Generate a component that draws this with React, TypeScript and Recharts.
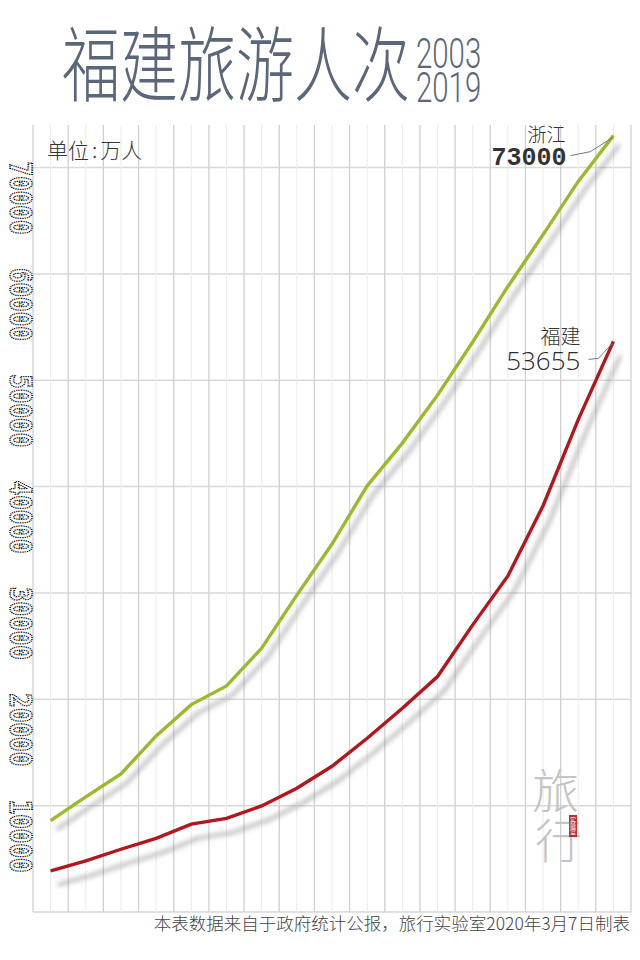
import React from 'react';
import { LineChart, Line, XAxis, YAxis, CartesianGrid } from 'recharts';

// 2003-2019 旅游人次（万人）
const years = [2003, 2004, 2005, 2006, 2007, 2008, 2009, 2010, 2011, 2012, 2013, 2014, 2015, 2016, 2017, 2018, 2019];
const zhejiang = [8590, 10820, 12980, 16560, 19500, 21260, 24800, 29800, 34600, 40070, 44090, 48600, 53600, 58820, 63690, 68700, 73000];
const fujian = [3857, 4800, 5900, 6930, 8260, 8810, 9970, 11630, 13700, 16340, 19160, 22140, 27000, 31600, 38200, 46300, 53655];

const yTicks = [10000, 20000, 30000, 40000, 50000, 60000, 70000];
const yGrid = [0, ...yTicks];
// one grid line on every year and one between years
const xGrid = [...years.flatMap((y) => [y - 0.5, y]), years[years.length - 1] + 0.5];

const data = years.map((year, i) => ({ year, zhejiang: zhejiang[i], fujian: fujian[i] }));

const SLATE = '#5b6779';
const GREEN = '#9cb92a';
const RED = '#b3141c';

const DottedTick = ({ y, payload }: any) => {
  const cx = 9.5;
  const top = y - 6;
  return (
    <text
      x={cx}
      y={top}
      transform={`rotate(90 ${cx} ${top})`}
      fontFamily="'DejaVu Sans Mono', monospace"
      fontWeight={700}
      fontSize={31}
      textLength={73}
      lengthAdjust="spacingAndGlyphs"
      fill="none"
      stroke="#000"
      strokeWidth={1.6}
      strokeDasharray="1.2 1.1"
    >
      {payload.value}
    </text>
  );
};

const VLine = (p: any) => (
  <line
    key={p.key}
    x1={p.x1}
    y1={p.y1}
    x2={p.x2}
    y2={p.y2}
    stroke={p.index % 2 === 0 ? '#d0d0d0' : '#ebebeb'}
    strokeWidth={p.index % 2 === 0 ? 1.3 : 1}
  />
);

const HLine = (p: any) => (
  <line key={p.key} x1={p.x1} y1={p.y1} x2={p.x2} y2={p.y2} stroke="#d9d9d9" strokeWidth={1.5} />
);

const ZjLabel = (props: any) => {
  const { x, y, value } = props;
  if (value !== zhejiang[zhejiang.length - 1]) return <g />;
  return (
    <g>
      <polyline points={`${x - 43},${y + 20} ${x - 23},${y + 16} ${x - 1},${y + 2}`} fill="none" stroke="#777" strokeWidth={1} />
      <text x={x - 48} y={y + 6} textAnchor="end" fontSize={19} fill="#333" fontFamily="'Noto Sans CJK SC'" fontWeight={300}>
        浙江
      </text>
      <text x={x - 47} y={y + 29} textAnchor="end" fontSize={25} fill="#333" fontFamily="'Liberation Mono', monospace" fontWeight={700}>
        {value}
      </text>
    </g>
  );
};

const FjLabel = (props: any) => {
  const { x, y, value } = props;
  if (value !== fujian[fujian.length - 1]) return <g />;
  return (
    <g>
      <polyline points={`${x - 25},${y + 18} ${x - 15},${y + 17} ${x - 1},${y + 2}`} fill="none" stroke="#777" strokeWidth={1} />
      <text x={x - 33} y={y + 3} textAnchor="end" fontSize={20} fill="#333" fontFamily="'Noto Sans CJK SC'" fontWeight={300}>
        福建
      </text>
      <text x={x - 33} y={y + 29} textAnchor="end" fontSize={26} fill="#2b2b2b" fontFamily="'Open Sans', sans-serif" fontWeight={300}>
        {value}
      </text>
    </g>
  );
};

export default function App() {
  return (
    <div style={{ position: 'relative', width: 640, height: 960, background: '#fff', overflow: 'hidden' }}>
      <style>{`
        body { margin: 0; }
        .zj-line .recharts-line-curve { filter: url(#shZ); }
        .fj-line .recharts-line-curve { filter: url(#shF); }
      `}</style>
      <svg width={0} height={0} style={{ position: 'absolute' }}>
        <defs>
          <filter id="shZ" x="-20%" y="-20%" width="140%" height="140%">
            <feGaussianBlur in="SourceAlpha" stdDeviation={2.8} />
            <feOffset dx={6} dy={9} result="b" />
            <feFlood floodColor="#808080" floodOpacity={0.6} />
            <feComposite in2="b" operator="in" result="s" />
            <feMerge>
              <feMergeNode in="s" />
              <feMergeNode in="SourceGraphic" />
            </feMerge>
          </filter>
          <filter id="shF" x="-20%" y="-20%" width="140%" height="140%">
            <feGaussianBlur in="SourceAlpha" stdDeviation={2.8} />
            <feOffset dx={7} dy={14} result="b" />
            <feFlood floodColor="#808080" floodOpacity={0.6} />
            <feComposite in2="b" operator="in" result="s" />
            <feMerge>
              <feMergeNode in="s" />
              <feMergeNode in="SourceGraphic" />
            </feMerge>
          </filter>
        </defs>
      </svg>

      <div style={{ position: 'absolute', left: 0, top: 0 }}>
        <LineChart width={640} height={960} data={data} margin={{ top: 125, right: 9, bottom: 48, left: 0 }}>
          <CartesianGrid horizontalValues={yGrid} horizontal={HLine} vertical={VLine} />
          <XAxis dataKey="year" type="number" domain={[2002.5, 2019.5]} ticks={xGrid} interval={0} hide />
          <YAxis
            type="number"
            domain={[0, 74000]}
            ticks={yTicks}
            interval={0}
            width={33}
            axisLine={false}
            tickLine={false}
            tick={DottedTick}
          />
          <Line
            className="zj-line"
            type="linear"
            dataKey="zhejiang"
            stroke={GREEN}
            strokeWidth={3.4}
            dot={false}
            isAnimationActive={false}
            label={ZjLabel}
          />
          <Line
            className="fj-line"
            type="linear"
            dataKey="fujian"
            stroke={RED}
            strokeWidth={3.4}
            dot={false}
            isAnimationActive={false}
            label={FjLabel}
          />
        </LineChart>
      </div>

      <svg width={640} height={960} style={{ position: 'absolute', left: 0, top: 0, pointerEvents: 'none' }}>
        <text transform="translate(62 95) scale(0.7073 1)" fontSize={82} fill={SLATE} fontFamily="'Noto Sans CJK SC'" fontWeight={300}>
          福建旅游人次
        </text>
        <text transform="translate(416 0) scale(0.70 1)" fontSize={42} fill={SLATE} fontFamily="Roboto" fontWeight={300}>
          <tspan x={0} y={68}>2003</tspan>
          <tspan x={0} y={102}>2019</tspan>
        </text>
        <text x={47} y={158} fontSize={21} fill="#333" fontFamily="'Noto Sans CJK SC'" fontWeight={300}>
          单位<tspan dx={3}>:</tspan><tspan dx={3}>万人</tspan>
        </text>

        {/* watermark */}
        <text fontSize={47} fill="#c4c4c4" fontFamily="'Noto Sans CJK SC'" fontWeight={300}>
          <tspan x={532} y={808}>旅</tspan>
          <tspan x={535} y={858}>行</tspan>
        </text>
        <rect x={569} y={815} width={8} height={22} fill="#b8322c" />
        <text x={573} y={817} fontSize={6} fill="#fff" fontFamily="'Noto Sans CJK SC'" style={{ writingMode: 'vertical-rl' }}>
          实验室
        </text>

        <text x={630} y={930} textAnchor="end" fontSize={17.5} fill="#444" fontFamily="'Noto Sans CJK SC'" fontWeight={300}>
          本表数据来自于政府统计公报，旅行实验室2020年3月7日制表
        </text>
      </svg>
    </div>
  );
}
